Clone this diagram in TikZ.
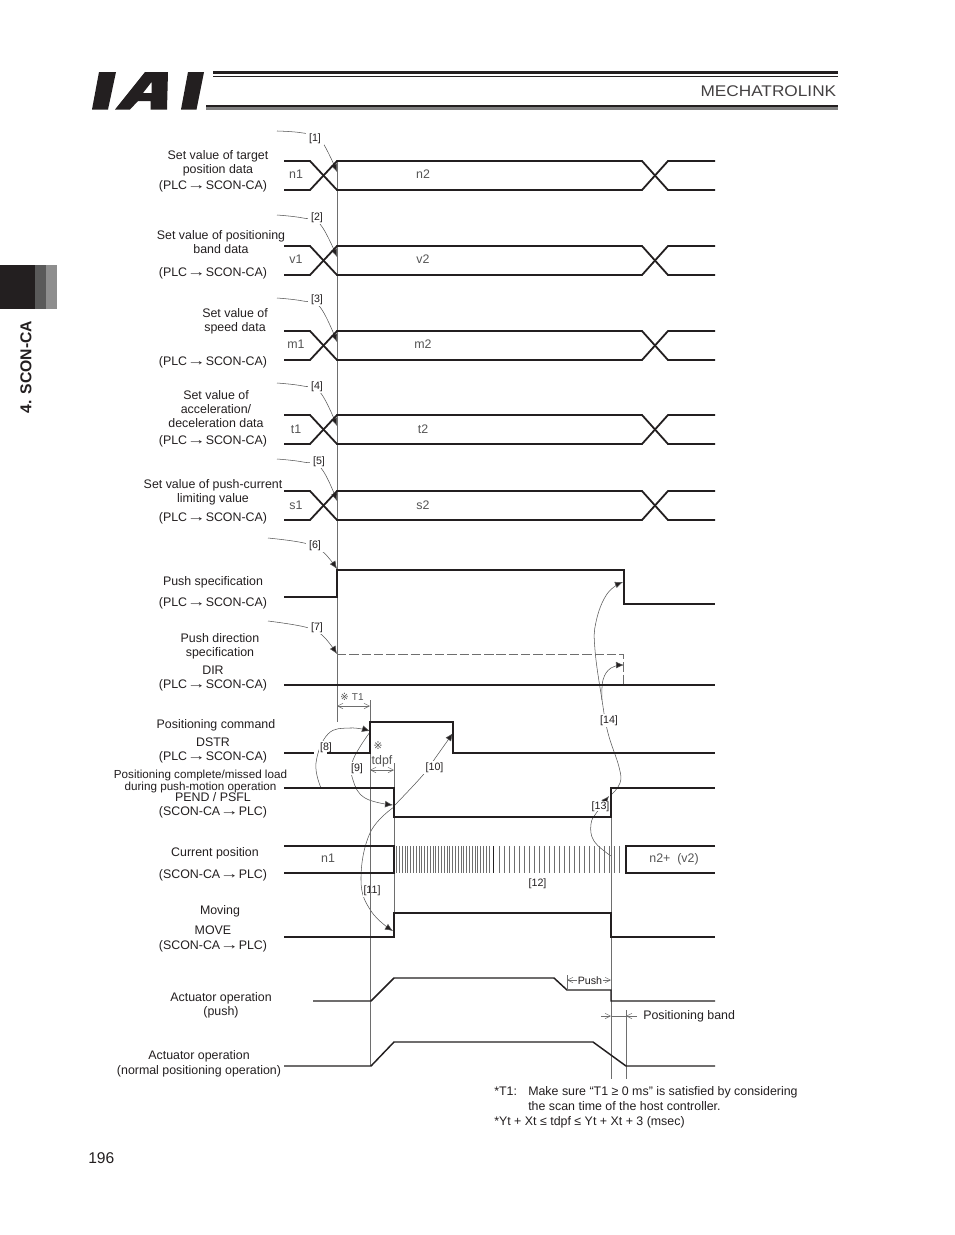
\documentclass[tikz,border=0pt]{standalone}
\usepackage{fontspec}
\setmainfont{Liberation Sans}
\newfontfamily\symfont{DejaVu Sans}
\usetikzlibrary{arrows.meta}
\definecolor{ink}{HTML}{231F20}
\definecolor{midgray}{HTML}{6E6E6E}
\definecolor{softgray}{HTML}{555555}
\definecolor{tabmid}{HTML}{5A5A5A}
\definecolor{tablight}{HTML}{8E8E8E}
\tikzset{
  lbl/.style={anchor=base,yshift=-3pt,inner sep=0pt,text=ink,font=\fontsize{9.3}{10}\selectfont},
  lblsmall/.style={lbl,font=\fontsize{8.75}{9}\selectfont},
  lblleft/.style={lbl,anchor=base west},
  sig/.style={lbl,text=softgray},
  tag/.style={anchor=center,fill=white,inner xsep=2.2pt,inner ysep=1.2pt,yshift=-0.6pt,text=ink,font=\fontsize{8}{8}\selectfont},
  wave/.style={draw=ink,line width=1.35pt,line join=miter},
  thinwave/.style={draw=ink,line width=1.1pt},
  guide/.style={draw=midgray,line width=0.5pt},
  leader/.style={draw=softgray,line width=0.4pt},
  leadarrow/.style={leader,-{Latex[length=6pt,width=5pt,fill=ink]}},
  dim/.style={draw=midgray,line width=0.4pt,{Straight Barb[length=4pt,width=4pt]}-{Straight Barb[length=4pt,width=4pt]}},
  dimin/.style={draw=midgray,line width=0.4pt,-{Straight Barb[length=4pt,width=4pt]}},
  hatch/.style={draw=midgray,line width=0.55pt},
  lk/.style={smooth,tension=0.7},
}
\newcommand{\tx}[3]{\node[lbl] (#1) at (#2) {#3};}
\newcommand{\arrowglyph}{\scalebox{1.5}[1.1]{→}}
\newcommand{\plcscon}[2]{\node[lbl] (#1) at (213,#2) {(PLC\arrowglyph SCON-CA)};}
\newcommand{\sconplc}[2]{\node[lbl] (#1) at (213,#2) {(SCON-CA\arrowglyph PLC)};}
\newcommand{\busline}[2]{%
  \draw[wave] (284,#1)--(310,#1)--(337,#2)--(642,#2)--(668,#1)--(715,#1);
  \draw[wave] (284,#2)--(310,#2)--(337,#1)--(642,#1)--(668,#2)--(715,#2);}
\begin{document}
\begin{tikzpicture}[x=0.75pt,y=-0.75pt]
\useasboundingbox (0,0) rectangle (954,1235);
\fill[white] (0,0) rectangle (954,1235);
% header
\fill[ink] (92,109.5)--(99,72)--(116,72)--(108,109.5)--cycle;
\fill[ink,even odd rule] (115,109.5)--(145,72)--(168,72)--(167,109.5)--(150.5,109.5)--(150.5,101)--(138,101)--(130,109.5)--cycle
  (151.5,82)--(151.5,93)--(143,93)--cycle;
\fill[ink] (181,109.5)--(188,72)--(204,72)--(196.5,109.5)--cycle;
\fill[ink] (213,71) rectangle (838,74);
\fill[ink] (213,76.3) rectangle (838,77.3);
\fill[ink] (206,105) rectangle (838,107.3);
\fill[gray] (206,107.3) rectangle (838,109.8);
\node[anchor=east,inner sep=0pt,text=ink!85,font=\fontsize{11.6}{13}\selectfont] (brand) at (836.5,91) {\scalebox{1.115}[1]{MECHATROLINK}};
% side tab
\fill[ink] (0,265) rectangle (35,309);
\fill[tabmid] (35,265) rectangle (46,309);
\fill[tablight] (46,265) rectangle (57,309);
\node[rotate=90,inner sep=0pt,text=ink,font=\bfseries\fontsize{11.8}{12}\selectfont] (chapter) at (26,367) {4. SCON-CA};
\node[anchor=base west,inner sep=0pt,text=ink,font=\fontsize{11.7}{12}\selectfont] (page) at (88,1163) {196};
% left labels
\tx{a1}{218,155}{Set value of target}
\tx{a2}{218,169}{position data}
\plcscon{a3}{185}
\tx{b1}{221,235}{Set value of positioning}
\tx{b2}{221,249}{band data}
\plcscon{b3}{272}
\tx{c1}{235,313}{Set value of}
\tx{c2}{235,327}{speed data}
\plcscon{c3}{361}
\tx{d1}{216,395}{Set value of}
\tx{d2}{216,409}{acceleration/}
\tx{d3}{216,423}{deceleration data}
\plcscon{d4}{440}
\tx{e1}{213,484}{Set value of push-current}
\tx{e2}{213,498}{limiting value}
\plcscon{e3}{517}
\tx{f1}{213,581}{Push specification}
\plcscon{f2}{602}
\tx{g1}{220,638}{Push direction}
\tx{g2}{220,652}{specification}
\tx{g3}{213,670}{DIR}
\plcscon{g4}{684}
\tx{h1}{216,724}{Positioning command}
\tx{h2}{213,742}{DSTR}
\plcscon{h3}{756}
\node[lblsmall] (i1) at (200.5,774.5) {Positioning complete/missed load};
\node[lblsmall] (i2) at (200.5,786) {during push-motion operation};
\tx{i3}{213,797}{PEND / PSFL}
\sconplc{i4}{811}
\tx{j1}{215,852}{Current position}
\sconplc{j2}{874}
\tx{k1}{220,910}{Moving}
\tx{k2}{213,930}{MOVE}
\sconplc{k3}{945}
\tx{l1}{221,997}{Actuator operation}
\tx{l2}{221,1011}{(push)}
\tx{m1}{199,1055}{Actuator operation}
\tx{m2}{199,1070}{(normal positioning operation)}
% leaders
\coordinate (s1) at (277,131); \coordinate (e1) at (337,172);
\coordinate (s2) at (277,215); \coordinate (e2) at (337,257);
\coordinate (s3) at (277,298); \coordinate (e3) at (337,342);
\coordinate (s4) at (277,383); \coordinate (e4) at (337,426);
\coordinate (s5) at (277,459); \coordinate (e5) at (337,501);
\coordinate (s6) at (268,538); \coordinate (e6) at (337,569);
\coordinate (s7) at (268,621); \coordinate (e7) at (337,654);
\draw[leadarrow] plot[lk] coordinates {(s1) (303,133) (320,139) (e1)};
\draw[leadarrow] plot[lk] coordinates {(s2) (303,218) (320,224) (e2)};
\draw[leadarrow] plot[lk] coordinates {(s3) (303,301) (320,307) (e3)};
\draw[leadarrow] plot[lk] coordinates {(s4) (303,386) (320,392) (e4)};
\draw[leadarrow] plot[lk] coordinates {(s5) (303,462) (321,468) (e5)};
\draw[leadarrow] plot[lk] coordinates {(s6) (304,543) (322,551) (e6)};
\draw[leadarrow] plot[lk] coordinates {(s7) (305,627) (322,635) (e7)};
\coordinate (s8) at (321,788); \coordinate (e8) at (370,731);
\coordinate (s9) at (370,732); \coordinate (e9) at (393,805);
\coordinate (s10) at (394,806); \coordinate (e10) at (453,733);
\coordinate (s11) at (394,807); \coordinate (e11) at (393,931);
\coordinate (s13) at (611,856); \coordinate (e13) at (609,796);
\coordinate (s14) at (611,795); \coordinate (e14a) at (623,582); \coordinate (e14b) at (624,665);
\draw[leadarrow] plot[lk] coordinates {(s8) (316,763) (328,734) (350,728) (e8)};
\draw[leadarrow] plot[lk] coordinates {(s9) (353,760) (353,780) (365,798) (e9)};
\draw[leadarrow] plot[lk] coordinates {(s10) (423,775) (436,757) (e10)};
\draw[leadarrow] plot[lk] coordinates {(s11) (370,833) (361,880) (371,911) (e11)};
\draw[leadarrow] plot[lk] coordinates {(s13) (594,841) (591,824) (597,812) (e13)};
\draw[leadarrow] plot[lk] coordinates {(s14) (620,783) (619,767) (608,733) (602,700) (595,650) (596,622) (607,594) (e14a)};
\draw[leadarrow] plot[lk] coordinates {(602,700) (603,680) (611,668) (e14b)};
% tags
\node[tag] (t1) at (315,138) {[1]};
\node[tag] (t2) at (317,217) {[2]};
\node[tag] (t3) at (317,299) {[3]};
\node[tag] (t4) at (317,386) {[4]};
\node[tag] (t5) at (319,461) {[5]};
\node[tag] (t6) at (315,545) {[6]};
\node[tag] (t7) at (317,627) {[7]};
\node[tag,inner xsep=1pt] (t8) at (326,746.5) {[8]};
\node[tag] (t9) at (357,768) {[9]};
\node[tag] (t10) at (434.5,766.5) {[10]};
\node[tag,inner xsep=0.5pt] (t11) at (372,890) {[11]};
\node[tag] (t12) at (537.5,883) {[12]};
\node[tag,inner sep=0pt] (t13) at (600.5,805.5) {[13]};
\node[tag] (t14) at (609,720) {[14]};
% guides
\coordinate (g337a) at (337,161); \coordinate (g337b) at (337,722);
\draw[guide] (g337a)--(g337b);
\draw[guide] (370,700)--(370,1066);
\draw[guide] (394,763)--(394,937);
\draw[guide] (611,788)--(611,1079);
\draw[guide] (626,1010)--(626,1079);
% bus rows
\busline{161}{190}
\busline{246}{275}
\busline{331}{360}
\busline{415}{444}
\busline{491}{520}
\node[sig] (n1) at (296,174) {n1}; \node[sig] (n2) at (423,174) {n2};
\node[sig] (v1) at (296,259) {v1}; \node[sig] (v2) at (423,259) {v2};
\node[sig] (q1) at (296,344) {m1}; \node[sig] (q2) at (423,344) {m2};
\node[sig] (t1s) at (296,429) {t1}; \node[sig] (t2s) at (423,429) {t2};
\node[sig] (s1s) at (296,505) {s1}; \node[sig] (s2s) at (423,505) {s2};
% push spec
\draw[wave] (284,597)--(337,597)--(337,570)--(624,570)--(624,604)--(715,604);
% dir
\draw[wave] (284,685)--(715,685);
\draw[midgray,line width=0.6pt,dash pattern=on 7pt off 2.2pt] (337,654)--(623,654)--(623,685);
% dstr
\draw[thinwave] (284,753)--(314,753);
\draw[wave] (327,753)--(370,753)--(370,722)--(453,722)--(453,753)--(715,753);
% pend
\draw[wave] (284,788)--(394,788)--(394,817)--(611,817)--(611,788)--(715,788);
% current position
\draw[wave] (284,846)--(394,846)--(394,873)--(284,873);
\draw[wave] (715,846)--(626,846)--(626,873)--(715,873);
\foreach \x in {396.5,399.3,...,491} \draw[hatch] (\x,846)--(\x,873);
\draw[ink,line width=0.55pt] (493.5,846)--(493.5,873);
\foreach \x in {499,504,...,622} \draw[hatch] (\x,846)--(\x,873);
\node[sig] (curA) at (328,858) {n1};
\node[sig] (curB) at (674,858) {n2+ ~(v2)};
% move
\draw[wave] (284,937)--(394,937)--(394,913)--(611,913)--(611,937)--(715,937);
% actuators
\draw[thinwave] (313,1001)--(371,1001)--(394,978)--(554,978)--(567,990)--(611,990)--(611,1001)--(715,1001);
\draw[thinwave] (284,1066)--(371,1066)--(394,1042)--(593,1042)--(626,1066)--(715,1066);
% dimensions
\draw[dim] (337,706)--(370,706);
\draw[dim] (370,770)--(394,770);
\node[sig] (dimT) at (352,696) {\symfont\fontsize{7.5}{8}\selectfont ※ \rmfamily T1};
\node[sig] (dimS) at (378,745) {\symfont\fontsize{8}{8}\selectfont ※};
\node[sig] (dimD) at (382,760) {tdpf};
\draw[midgray,line width=0.4pt] (567,975)--(567,990);
\draw[dim] (567,980)--(611,980);
\node[lbl,fill=white,inner sep=0.5pt,yshift=0.6pt,font=\fontsize{8}{8}\selectfont] (pushlab) at (590,981) {Push};
\draw[dimin] (601,1016)--(611,1016);
\draw[midgray,line width=0.4pt] (611,1016)--(626,1016);
\draw[dimin] (637,1016)--(626,1016);
\node[lblleft] (pband) at (643,1015) {Positioning band};
% notes
\node[lblleft] (nA) at (494,1091) {*T1:};
\node[lblleft] (nB) at (528,1091) {Make sure “T1 ≥ 0 ms” is satisfied by considering};
\node[lblleft] (nC) at (528,1106) {the scan time of the host controller.};
\node[lblleft] (nD) at (494,1121) {*Yt + Xt ≤ tdpf ≤ Yt + Xt + 3 (msec)};
\end{tikzpicture}
\end{document}
